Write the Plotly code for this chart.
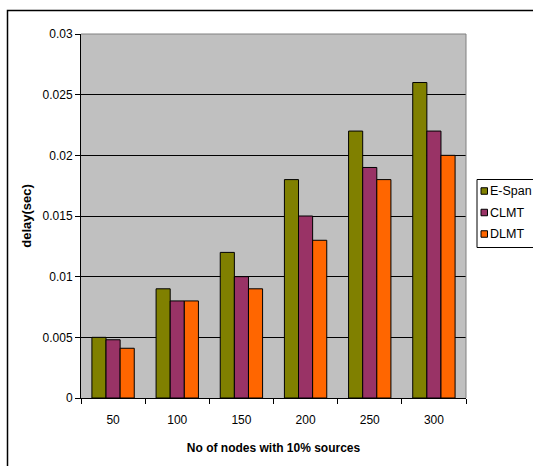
import plotly.graph_objects as go

categories = ["50", "100", "150", "200", "250", "300"]
espan = [0.005, 0.009, 0.012, 0.018, 0.022, 0.026]
clmt = [0.0048, 0.008, 0.010, 0.015, 0.019, 0.022]
dlmt = [0.0041, 0.008, 0.009, 0.013, 0.018, 0.020]
y_ticks = [0, 0.005, 0.01, 0.015, 0.02, 0.025, 0.03]
y_tick_labels = ["0", "0.005", "0.01", "0.015", "0.02", "0.025", "0.03"]
series_names = ["E-Span", "CLMT", "DLMT"]
series_colors = ["#808000", "#993366", "#FF6600"]

series_values = [espan, clmt, dlmt]

fig = go.Figure()
for name, vals, col in zip(series_names, series_values, series_colors):
    fig.add_trace(go.Bar(x=categories, y=vals, name=name, showlegend=False,
                         marker=dict(color=col, line=dict(color="black", width=1))))

L, R, T, B = 81, 67, 34, 68
W, H = 533, 466
pw, ph = W - L - R, H - T - B

def px(x):
    return (x - L) / pw

def py(y):
    return (H - B - y) / ph

shapes = [
    dict(type="line", xref="paper", yref="paper", x0=0, x1=1, y0=1, y1=1,
         line=dict(color="#808080", width=1)),
    dict(type="line", xref="paper", yref="paper", x0=1, x1=1, y0=0, y1=1,
         line=dict(color="#808080", width=1)),
    dict(type="rect", xref="paper", yref="paper",
         x0=px(7.5), x1=px(545), y0=py(10.5), y1=py(480),
         line=dict(color="black", width=1.5), fillcolor="rgba(0,0,0,0)"),
    # legend box
    dict(type="rect", xref="paper", yref="paper",
         x0=px(477), x1=px(545), y0=py(179.5), y1=py(247.5),
         line=dict(color="black", width=1), fillcolor="white"),
]
annotations = []
legend_rows = [191, 212.5, 234]
for name, col, yc in zip(series_names, series_colors, legend_rows):
    shapes.append(dict(type="rect", xref="paper", yref="paper",
                       x0=px(481), x1=px(487.5), y0=py(yc - 3.25), y1=py(yc + 3.25),
                       line=dict(color="black", width=1), fillcolor=col))
    annotations.append(dict(text=name, xref="paper", yref="paper",
                            x=px(487.5), y=py(yc), xanchor="left", yanchor="middle",
                            showarrow=False, font=dict(size=12.5, color="black")))

fig.update_layout(
    width=W, height=H,
    margin=dict(l=L, r=R, t=T, b=B, pad=0, autoexpand=False),
    paper_bgcolor="white",
    plot_bgcolor="#C0C0C0",
    font=dict(family="Liberation Sans, Arial, sans-serif", size=12, color="black"),
    barmode="group",
    bargap=0.34,
    bargroupgap=0,
    showlegend=False,
    xaxis=dict(
        type="category",
        showline=True, linecolor="black", linewidth=1,
        ticks="outside", tickson="boundaries", ticklen=5, tickcolor="black",
        ticklabelstandoff=11,
        showgrid=False,
        title=dict(text="<b>No of nodes with 10% sources</b>", standoff=17,
                   font=dict(size=12)),
        tickfont=dict(size=12),
    ),
    yaxis=dict(
        range=[0, 0.03],
        tickvals=y_ticks, ticktext=y_tick_labels,
        showline=True, linecolor="black", linewidth=1,
        ticks="outside", ticklen=5, tickcolor="black",
        showgrid=True, gridcolor="black", gridwidth=1,
        zeroline=False,
        title=dict(text="<b>delay(sec)</b>", standoff=8, font=dict(size=13)),
        tickfont=dict(size=12),
    ),
    shapes=shapes,
    annotations=annotations,
)

fig.write_html("out.html")
